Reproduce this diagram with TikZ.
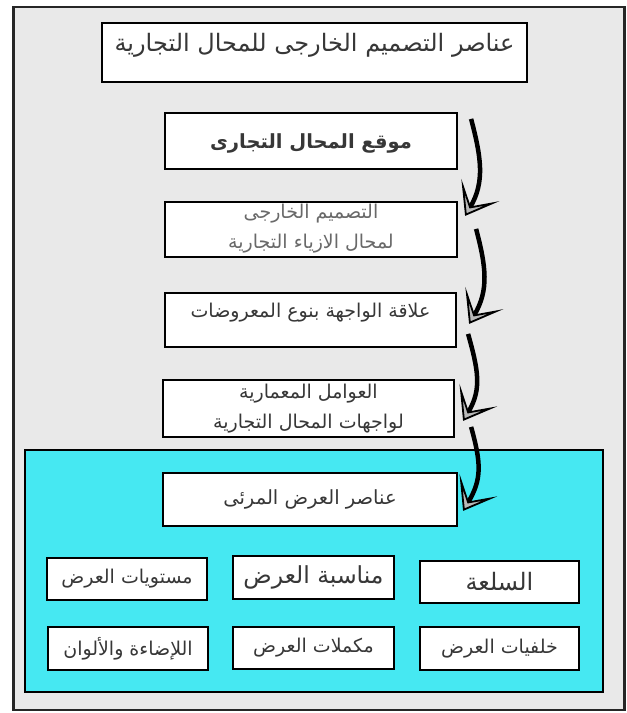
\documentclass[tikz,border=0pt]{standalone}
\usepackage{fontspec}
\usetikzlibrary{arrows.meta,calc}
\TeXXeTstate=1
\newfontfamily\arabicfont[Script=Arabic]{DejaVu Sans}
\definecolor{framegray}{RGB}{233,233,233}
\definecolor{cyanbox}{RGB}{70,232,242}
\definecolor{txt}{RGB}{55,55,55}
\definecolor{txtlight}{RGB}{105,105,105}
\begin{document}
\begin{tikzpicture}[x=1pt,y=-1pt,
  box/.style={draw=black, line width=2.2pt, fill=white, rectangle, inner sep=0pt},
  ar/.style={font=\arabicfont, text=txt, align=center, inner sep=0pt},
  flow/.style={line width=4.5pt, -{Stealth[length=30pt,width=44pt,inset=19pt,fill=gray!55,line width=1.8pt]}}]
\useasboundingbox (0,0) rectangle (627,713);
% outer frame
\node[draw=black!85, line width=2.4pt, fill=framegray, rectangle, minimum width=611, minimum height=703] (frame) at (319,358.5) {};
% title
\node[box, minimum width=425, minimum height=59] (title) at (314.5,52.5) {};
\node[ar, font=\arabicfont\fontsize{24}{28}\selectfont] (titletext) at ([yshift=7]title.center) {\beginR عناصر التصميم الخارجى للمحال التجارية\endR};
% flow boxes
\node[box, minimum width=292, minimum height=56] (b1) at (311,141) {};
\node[ar, font=\arabicfont\bfseries\fontsize{19.5}{22}\selectfont] (t1) at ([yshift=-2]b1.center) {\beginR موقع المحال التجارى\endR};
\node[box, minimum width=292, minimum height=55] (b2) at (311,229.5) {};
\node[ar, text=txtlight, font=\arabicfont\fontsize{19}{30}\selectfont] (t2) at ([yshift=1]b2.center) {\beginR التصميم الخارجى\endR\\ \beginR لمحال الازياء التجارية\endR};
\node[box, minimum width=291, minimum height=54] (b3) at (310.5,320) {};
\node[ar, font=\arabicfont\fontsize{19}{22}\selectfont] (t3) at ([yshift=7]b3.center) {\beginR علاقة الواجهة بنوع المعروضات\endR};
\node[box, minimum width=291, minimum height=57] (b4) at (308.5,408.5) {};
\node[ar, font=\arabicfont\fontsize{19}{30}\selectfont] (t4) at (b4.center) {\beginR العوامل المعمارية\endR\\ \beginR لواجهات المحال التجارية\endR};
% cyan panel
\node[draw=black, line width=2.4pt, fill=cyanbox, rectangle, minimum width=578, minimum height=242] (panel) at (314,571) {};
\node[box, minimum width=294, minimum height=53] (b5) at (310,499.5) {};
\node[ar, font=\arabicfont\fontsize{19.5}{22}\selectfont] (t5) at (b5.center) {\beginR عناصر العرض المرئى\endR};
% grid boxes
\node[box, minimum width=160, minimum height=42] (r1a) at (127,579) {};
\node[ar, font=\arabicfont\fontsize{19}{22}\selectfont] at (r1a.center) {\beginR مستويات العرض\endR};
\node[box, minimum width=161, minimum height=43] (r1b) at (313.5,577.5) {};
\node[ar, font=\arabicfont\fontsize{23.5}{26}\selectfont] at (r1b.center) {\beginR مناسبة العرض\endR};
\node[box, minimum width=159, minimum height=42] (r1c) at (499.5,582) {};
\node[ar, font=\arabicfont\fontsize{24}{26}\selectfont] at (r1c.center) {\beginR السلعة\endR};
\node[box, minimum width=160, minimum height=43] (r2a) at (128,648.5) {};
\node[ar, font=\arabicfont\fontsize{19}{22}\selectfont] at (r2a.center) {\beginR اللإضاءة والألوان\endR};
\node[box, minimum width=161, minimum height=42] (r2b) at (313.5,648) {};
\node[ar, font=\arabicfont\fontsize{19}{22}\selectfont] at (r2b.center) {\beginR مكملات العرض\endR};
\node[box, minimum width=159, minimum height=43] (r2c) at (499.5,648.5) {};
\node[ar, font=\arabicfont\fontsize{19}{22}\selectfont] at (r2c.center) {\beginR خلفيات العرض\endR};
% arrows
\coordinate (a1s) at ($(b1.north east)+(13,7)$);
\coordinate (a1e) at ($(b2.north east)+(7,15)$);
\coordinate (a2s) at ($(b2.north east)+(18,28)$);
\coordinate (a2e) at ($(b3.north east)+(12,32)$);
\coordinate (a3s) at ($(b3.north east)+(11,42)$);
\coordinate (a3e) at ($(b4.north east)+(8,42)$);
\coordinate (a4s) at ($(b4.north east)+(16,48)$);
\coordinate (a4e) at ($(b5.north east)+(5,39)$);
\draw[flow] (a1s) .. controls +(10,38) and +(20,-34) .. (a1e);
\draw[flow] (a2s) .. controls +(10,38) and +(20,-34) .. (a2e);
\draw[flow] (a3s) .. controls +(10,36) and +(19,-32) .. (a3e);
\draw[flow] (a4s) .. controls +(10,36) and +(19,-32) .. (a4e);
\end{tikzpicture}
\end{document}
